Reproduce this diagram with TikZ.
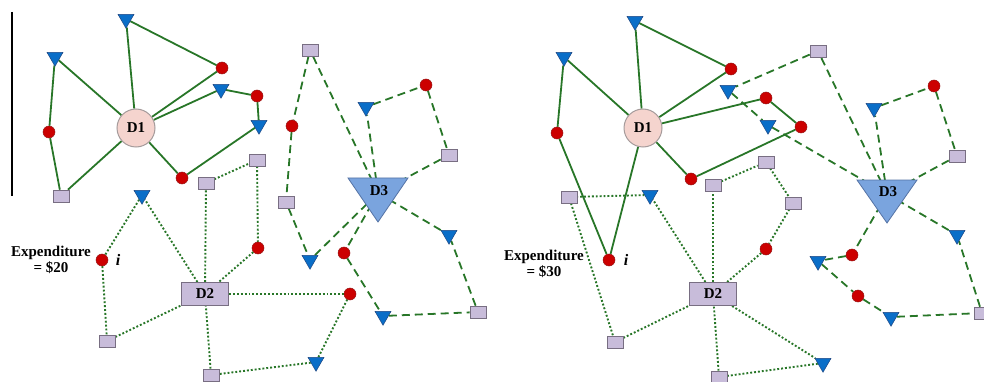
\documentclass[tikz,border=0pt]{standalone}
\usepackage{fontspec}
\setmainfont{Liberation Serif}
\usetikzlibrary{shapes.geometric}
\pgfdeclarelayer{bg}
\pgfsetlayers{bg,main}
\definecolor{eg}{RGB}{40,118,40}
\definecolor{rd}{RGB}{204,0,0}
\definecolor{rdb}{RGB}{150,20,20}
\definecolor{bl}{RGB}{10,110,200}
\definecolor{blb}{RGB}{30,70,130}
\definecolor{lav}{RGB}{200,188,218}
\definecolor{lavb}{RGB}{120,110,130}
\definecolor{pk}{RGB}{245,212,206}
\definecolor{pkb}{RGB}{165,155,155}
\definecolor{dthree}{RGB}{122,164,222}
\definecolor{dthreeb}{RGB}{85,115,165}
\tikzset{
 btri/.style={regular polygon, regular polygon sides=3, shape border rotate=180, fill=bl, draw=blb, line width=0.5pt, minimum size=18.5pt, inner sep=0pt},
 rdot/.style={circle, fill=rd, draw=rdb, line width=0.5pt, minimum size=12pt, inner sep=0pt},
 lsq/.style={rectangle, fill=lav, draw=lavb, line width=0.6pt, minimum width=16pt, minimum height=12pt, inner sep=0pt},
 dlabel/.style={font=\fontsize{15}{16}\selectfont\bfseries},
 done/.style={circle, fill=pk, draw=pkb, line width=1pt, minimum size=38pt, inner sep=0pt, dlabel},
 dtwo/.style={rectangle, fill=lav, draw=lavb, line width=1pt, minimum width=47pt, minimum height=23pt, inner sep=0pt, dlabel},
 dthreeshape/.style={fill=dthree, draw=dthreeb, line width=0.8pt},
 sol/.style={eg, line width=1.8pt},
 dsh/.style={eg, line width=1.8pt, dash pattern=on 8pt off 5pt},
 dtt/.style={eg, line width=1.9pt, dash pattern=on 1.9pt off 2pt},
 exptext/.style={align=center, font=\fontsize{15}{16}\selectfont\bfseries, inner sep=0pt},
 itext/.style={font=\fontsize{16}{16}\selectfont\bfseries\itshape, inner sep=0pt}
}
\begin{document}
\begin{tikzpicture}[x=1pt,y=-1pt]
\useasboundingbox (0,0) rectangle (984,382);
\draw[black, line width=1.4pt] (12,12) -- (12,196);

% ---------------- LEFT PANEL ----------------
\node[done] (L-D1) at (136,128) {D1};
\node[dtwo] (L-D2) at (205,294) {D2};
\coordinate (L-D3) at (378,193);
\foreach \n/\x/\y in {T1/126/19, T2/55/57, T3/221/89, T4/259/125, T5/142/195, T6/310/260, T7/383/316, T8/449/235, T9/316/362, T10/366/107}
  \node[btri] (L-\n) at (\x,\y) {};
\foreach \n/\x/\y in {C1/49/132, C2/222/68, C3/182/178, C4/257/96, C5/292/126, C6/426/85, C7/258/248, Ci/102/260, C9/344/253, C10/350/294}
  \node[rdot] (L-\n) at (\x,\y) {};
\foreach \n/\x/\y in {S1/61/196, S2/206/183, S3/257/160, S4/310/50, S5/449/155, S6/286/202, S7/107/341, S8/211/375, S9/478/312}
  \node[lsq] (L-\n) at (\x,\y) {};
\draw[dthreeshape] (348,178) -- (408,178) -- (378,222) -- cycle;
\node[dlabel, inner sep=0pt] (L-D3lbl) at (379,191) {D3};
\node[exptext] (L-exp) at (51,260) {Expenditure\\= \$20};
\node[itext] (L-i) at (118,260) {i};

% ---------------- RIGHT PANEL ----------------
\node[done] (R-D1) at (643,128) {D1};
\node[dtwo] (R-D2) at (713,294) {D2};
\coordinate (R-D3) at (887,194);
\foreach \n/\x/\y in {T1/635/21, T2/564/57, T3/728/90, Tn/768/125, T5/650/195, T9/823/363, T10/874/108, Ta/818/261, T7/891/317, T8/957/235}
  \node[btri] (R-\n) at (\x,\y) {};
\foreach \n/\x/\y in {C1/557/133, C2/731/69, C4/766/98, Cn/801/127, C3/691/179, Ci/609/260, C6/934/86, C9/852/255, Cb/858/296, C7/766/249}
  \node[rdot] (R-\n) at (\x,\y) {};
\foreach \n/\x/\y in {S1/569/197, S2/713/185, S3/766/162, Sx/793/203, S4/818/51, S5/957/156, S7/615/342, S8/719/377, S9/982/313}
  \node[lsq] (R-\n) at (\x,\y) {};
\draw[dthreeshape] (857,180) -- (917,180) -- (887,223) -- cycle;
\node[dlabel, inner sep=0pt] (R-D3lbl) at (888,192) {D3};
\node[exptext] (R-exp) at (544,264) {Expenditure\\= \$30};
\node[itext] (R-i) at (626,260) {i};

% ---------------- EDGES ----------------
\begin{pgfonlayer}{bg}
\foreach \a/\b in {D1/T1, T1/C2, C2/D1, D1/T2, T2/C1, C1/S1, S1/D1, D1/T3, T3/C4, C4/T4, T4/C3, C3/D1}
  \draw[sol] (L-\a) -- (L-\b);
\foreach \a/\b in {D2/T5, T5/Ci, Ci/S7, S7/D2, D2/S2, S2/S3, S3/C7, C7/D2, D2/C10, C10/T9, T9/S8, S8/D2}
  \draw[dtt] (L-\a) -- (L-\b);
\foreach \a/\b in {D3/S4, S4/C5, C5/S6, S6/T6, T6/D3, D3/T10, T10/C6, C6/S5, S5/D3, D3/C9, C9/T7, T7/S9, S9/T8, T8/D3}
  \draw[dsh] (L-\a) -- (L-\b);

\foreach \a/\b in {D1/T1, T1/C2, C2/D1, D1/T2, T2/C1, C1/Ci, Ci/D1, D1/C4, C4/Cn, Cn/C3, C3/D1}
  \draw[sol] (R-\a) -- (R-\b);
\foreach \a/\b in {D2/T5, T5/S1, S1/S7, S7/D2, D2/S2, S2/S3, S3/Sx, Sx/C7, C7/D2, D2/T9, T9/S8, S8/D2}
  \draw[dtt] (R-\a) -- (R-\b);
\foreach \a/\b in {D3/S4, S4/T3, T3/Tn, Tn/D3, D3/T10, T10/C6, C6/S5, S5/D3, D3/C9, C9/Ta, Ta/Cb, Cb/T7, T7/S9, S9/T8, T8/D3}
  \draw[dsh] (R-\a) -- (R-\b);
\end{pgfonlayer}
\end{tikzpicture}
\end{document}
